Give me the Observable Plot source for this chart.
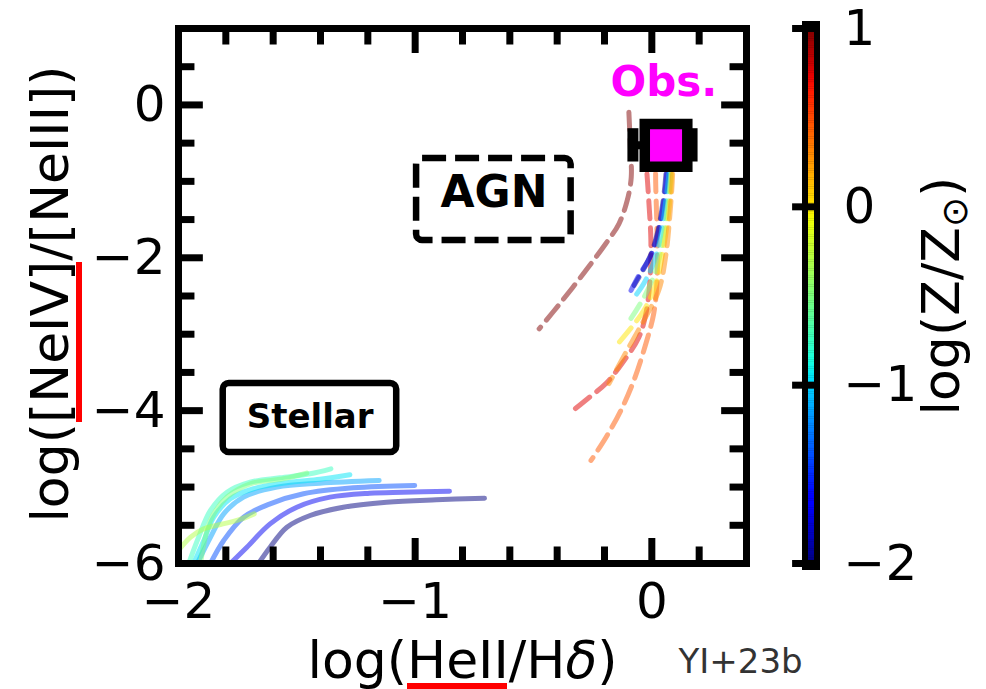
<!DOCTYPE html>
<html><head><meta charset="utf-8">
<script src="https://cdn.jsdelivr.net/npm/d3@7"></script>
<script src="https://cdn.jsdelivr.net/npm/@observablehq/plot@0.6"></script>
<style>
html,body{margin:0;padding:0;background:#fff;}
#wrap{position:relative;width:986px;height:689px;overflow:hidden;background:#fff;}
#wrap svg{position:absolute;top:0;}
.redbar{position:absolute;background:#ff0000;}
</style></head><body>
<div id="wrap"></div>
<script>
// ---- Data ----
const xMajor = [-2, -1, 0];
const xMinor = [-1.8, -1.6, -1.4, -1.2, -0.8, -0.6, -0.4, -0.2, 0.2];
const yMajor = [0, -2, -4, -6];
const yMinor = [0.5, -0.5, -1, -1.5, -2.5, -3, -3.5, -4.5, -5, -5.5];
const cbTicks = [1, 0, -1, -2];

// Stellar models (solid), log metallicity of each track
const stellarLogZ = [-2.0, -1.7, -1.4, -1.15, -0.95, -0.75, -0.5, -0.3];
const stellarX = [
  [-1.662, -1.613, -1.542, -1.444, -1.304, -1.121, -0.911, -0.707],
  [-1.781, -1.711, -1.613, -1.500, -1.360, -1.192, -1.051, -0.855],
  [-1.865, -1.809, -1.725, -1.613, -1.472, -1.262, -1.002],
  [-1.921, -1.865, -1.809, -1.725, -1.584, -1.402, -1.152],
  [-1.936, -1.893, -1.851, -1.781, -1.683, -1.542, -1.402, -1.276],
  [-1.957, -1.915, -1.865, -1.795, -1.697, -1.571, -1.444, -1.356],
  [-1.907, -1.865, -1.795, -1.697, -1.557, -1.458],
  [-2.0, -1.949, -1.893, -1.823, -1.753, -1.680]
];
const stellarY = [
  [-6.0, -5.787, -5.525, -5.372, -5.263, -5.198, -5.166, -5.146],
  [-6.0, -5.787, -5.481, -5.263, -5.132, -5.080, -5.067, -5.054],
  [-6.0, -5.699, -5.394, -5.219, -5.088, -5.010, -4.979],
  [-6.0, -5.656, -5.350, -5.132, -5.001, -4.949, -4.914],
  [-6.0, -5.699, -5.394, -5.153, -5.022, -4.944, -4.897, -4.839],
  [-6.0, -5.656, -5.306, -5.067, -4.936, -4.879, -4.826, -4.761],
  [-6.0, -5.437, -5.132, -4.957, -4.892, -4.818],
  [-5.830, -5.656, -5.546, -5.490, -5.437, -5.350]
];

// AGN models (dashed)
const agnLogZ = [1.0, 0.75, 0.45, -2.0, -1.7, -1.0, -0.5, 0.0, 0.3];
const agnX = [
  [-0.097, -0.090, -0.087, -0.104, -0.139, -0.195, -0.279, -0.378, -0.476],
  [-0.030, -0.021, -0.013, -0.004, -0.008, -0.025, -0.055, -0.126, -0.194, -0.265, -0.349],
  [0.020, 0.016, 0.022, 0.022, 0.008, -0.025, -0.076, -0.131, -0.194, -0.257],
  [0.065, 0.060, 0.048, 0.026, -0.006, -0.050, -0.075],
  [0.066, 0.063, 0.051, 0.029, -0.004, -0.055, -0.088],
  [0.072, 0.072, 0.059, 0.038, 0.008, -0.034, -0.084],
  [0.080, 0.080, 0.067, 0.046, 0.017, -0.029, -0.088],
  [0.084, 0.084, 0.072, 0.051, 0.021, -0.034, -0.139],
  [0.088, 0.088, 0.076, 0.059, 0.029, -0.034, -0.105, -0.181]
];
const agnY = [
  [-0.095, -0.596, -0.946, -1.250, -1.555, -1.817, -2.166, -2.559, -2.929],
  [-0.550, -0.884, -1.250, -1.774, -2.297, -2.729, -3.043, -3.383, -3.645, -3.828, -4.037],
  [-0.550, -0.880, -1.686, -2.297, -2.729, -3.121, -3.605, -3.998, -4.351, -4.652],
  [-0.550, -0.884, -1.250, -1.643, -1.970, -2.232, -2.360],
  [-0.550, -0.884, -1.250, -1.643, -1.970, -2.232, -2.428],
  [-0.550, -0.884, -1.250, -1.708, -2.062, -2.336, -2.559],
  [-0.550, -0.884, -1.316, -1.774, -2.166, -2.493, -2.794],
  [-0.550, -0.884, -1.381, -1.839, -2.297, -2.690, -3.108],
  [-0.550, -0.884, -1.447, -1.970, -2.428, -2.820, -3.213, -3.645]
];

// Observation
const obsX = [0.060];
const obsY = [-0.529];
const obsErrLow = [0.140];
const obsErrHigh = [0.110];

// ---- Build tables ----
function rows(logZ, xs, ys) {
  const out = [];
  logZ.forEach((z, i) => xs[i].forEach((x, j) => out.push({id: i, logZ: z, x, y: ys[i][j]})));
  return out;
}
const stellarRows = rows(stellarLogZ, stellarX, stellarY);
const agnRows = rows(agnLogZ, agnX, agnY);
const obs = obsX.map((x, i) => ({x, y: obsY[i], lo: x - obsErrLow[i], hi: x + obsErrHigh[i]}));

// jet colormap
const jetStops = {
  r: [[0, 0], [0.35, 0], [0.66, 1], [0.89, 1], [1, 0.5]],
  g: [[0, 0], [0.125, 0], [0.375, 1], [0.64, 1], [0.91, 0], [1, 0]],
  b: [[0, 0.5], [0.11, 1], [0.34, 1], [0.65, 0], [1, 0]]
};
function seg(stops, t) {
  t = Math.max(0, Math.min(1, t));
  for (let i = 1; i < stops.length; i++) {
    if (t <= stops[i][0]) {
      const [t0, v0] = stops[i - 1], [t1, v1] = stops[i];
      return v0 + (v1 - v0) * (t - t0) / (t1 - t0);
    }
  }
  return stops[stops.length - 1][1];
}
const jet = t => d3.rgb(255 * seg(jetStops.r, t), 255 * seg(jetStops.g, t), 255 * seg(jetStops.b, t)).formatHex();
const colorScale = {type: "linear", domain: [-2, 1], interpolate: jet};
const fmt = d => d < 0 ? "\u2212" + Math.abs(d) : String(d);

const main = Plot.plot({
  width: 986, height: 689,
  marginLeft: 178, marginRight: 240, marginTop: 28, marginBottom: 126,
  x: {domain: [-2, 0.4]},
  y: {domain: [-6, 1]},
  color: colorScale,
  style: {fontFamily: "DejaVu Sans", background: "white", overflow: "visible"},
  marks: [
    Plot.line(stellarRows, {x: "x", y: "y", z: "id", stroke: "logZ", strokeWidth: 5, strokeOpacity: 0.5, curve: "catmull-rom"}),
    Plot.line(agnRows, {x: "x", y: "y", z: "id", stroke: "logZ", strokeWidth: 5, strokeOpacity: 0.5, strokeDasharray: "18,9", curve: "catmull-rom"}),
    // annotation boxes
    Plot.rect([0], {x1: -0.994, x2: -0.341, y1: -0.701, y2: -1.774, rx: 6, fill: "white", stroke: "black", strokeWidth: 6.5, strokeDasharray: "24,9"}),
    Plot.text(["AGN"], {x: -0.667, y: -1.15, fontSize: 44, fontWeight: "bold", fill: "black"}),
    Plot.rect([0], {x1: -1.811, x2: -1.078, y1: -3.645, y2: -4.547, rx: 6, fill: "white", stroke: "black", strokeWidth: 6.5}),
    Plot.text(["Stellar"], {x: -1.444, y: -4.09, fontSize: 34, fontWeight: "bold", fill: "black"}),
    // observation
    Plot.ruleY(obs, {y: "y", x1: "lo", x2: "hi", stroke: "black", strokeWidth: 8}),
    Plot.ruleX(obs, {x: "lo", y1: d => d.y - 0.218, y2: d => d.y + 0.218, stroke: "black", strokeWidth: 11}),
    Plot.ruleX(obs, {x: "hi", y1: d => d.y - 0.218, y2: d => d.y + 0.218, stroke: "black", strokeWidth: 11}),
    Plot.dot(obs, {x: "x", y: "y", symbol: "square", r: 24, fill: "#ff00ff", stroke: "black", strokeWidth: 10.5}),
    Plot.text(["Obs."], {x: 0.051, y: 0.293, fontSize: 42, fontWeight: "bold", fill: "#ff00ff"}),
    // frame and ticks
    Plot.frame({stroke: "black", strokeWidth: 7}),
    Plot.ruleX(xMajor, {y1: -6, y2: -6 + 0.327, stroke: "black", strokeWidth: 7}),
    Plot.ruleX(xMajor, {y1: 1, y2: 1 - 0.327, stroke: "black", strokeWidth: 7}),
    Plot.ruleX(xMinor, {y1: -6, y2: -6 + 0.216, stroke: "black", strokeWidth: 7}),
    Plot.ruleX(xMinor, {y1: 1, y2: 1 - 0.216, stroke: "black", strokeWidth: 7}),
    Plot.ruleY(yMajor, {x1: -2, x2: -2 + 0.105, stroke: "black", strokeWidth: 7}),
    Plot.ruleY(yMajor, {x1: 0.4, x2: 0.4 - 0.105, stroke: "black", strokeWidth: 7}),
    Plot.ruleY(yMinor, {x1: -2, x2: -2 + 0.0695, stroke: "black", strokeWidth: 7}),
    Plot.ruleY(yMinor, {x1: 0.4, x2: 0.4 - 0.0695, stroke: "black", strokeWidth: 7}),
    Plot.axisX(xMajor, {tickSize: 0, tickPadding: 19, fontSize: 50, tickFormat: fmt, label: null, fill: "black"}),
    Plot.axisY(yMajor, {tickSize: 0, tickPadding: 13, fontSize: 50, tickFormat: fmt, label: null, fill: "black"}),
    // axis titles
    Plot.text(["log(HeII/H\u03b4)"], {frameAnchor: "bottom", dy: 114, fontSize: 52, textAnchor: "middle", lineAnchor: "bottom", fill: "black"}),
    Plot.text(["log([NeIV]/[NeIII])"], {frameAnchor: "left", dx: -111, dy: -2, rotate: -90, fontSize: 52, textAnchor: "middle", lineAnchor: "bottom", fill: "black"}),
    Plot.text(["YI+23b"], {frameAnchor: "bottom-right", dx: -68, dy: 109, textAnchor: "start", lineAnchor: "bottom", fontSize: 34, fill: "#333"})
  ]
});

const cbBands = d3.range(-2, 1, 0.01);
const cb = Plot.plot({
  width: 200, height: 689,
  marginLeft: 16, marginRight: 166, marginTop: 28, marginBottom: 126,
  x: {domain: [0, 1], axis: null},
  y: {domain: [-2, 1]},
  color: colorScale,
  style: {fontFamily: "DejaVu Sans", background: "transparent", overflow: "visible"},
  marks: [
    Plot.rect([0], {x1: 0, x2: 1, y1: -2, y2: 1, insetTop: -7, insetBottom: -7, fill: "black"}),
    Plot.rect(cbBands, {x1: 0, x2: 1, y1: d => d, y2: d => d + 0.012, fill: d => d + 0.005, insetLeft: 6, insetRight: 6}),
    Plot.ruleY(cbTicks, {x1: -0.55, x2: 1, stroke: "black", strokeWidth: 7}),
    Plot.axisY(cbTicks, {anchor: "right", tickSize: 0, tickPadding: 23, fontSize: 50, tickFormat: fmt, label: null, fill: "black"}),
    Plot.text(["log(Z/Z\u2299)"], {frameAnchor: "right", dx: 138, rotate: -90, fontSize: 52, textAnchor: "middle", lineAnchor: "bottom", fill: "black"})
  ]
});

const wrap = document.getElementById("wrap");
main.style.left = "0px";
cb.style.left = "786px";
wrap.appendChild(main);
wrap.appendChild(cb);

// rich text: italic delta, subscript sun symbol
const NS = "http://www.w3.org/2000/svg";
function tspan(txt, attrs) {
  const t = document.createElementNS(NS, "tspan");
  t.textContent = txt;
  for (const k in attrs) t.setAttribute(k, attrs[k]);
  return t;
}
for (const t of main.querySelectorAll("text")) {
  if (t.textContent === "log(HeII/H\u03b4)") {
    t.textContent = "";
    t.appendChild(tspan("log(HeII/H", {}));
    t.appendChild(tspan("\u03b4", {"font-style": "italic"}));
    t.appendChild(tspan(")", {}));
  }
}
for (const t of cb.querySelectorAll("text")) {
  if (t.textContent === "log(Z/Z\u2299)") {
    t.textContent = "";
    t.appendChild(tspan("log(Z/Z", {}));
    t.appendChild(tspan("\u2299", {"font-size": "36", dy: "8"}));
    t.appendChild(tspan(")", {dy: "-8"}));
  }
}

// red highlight bars
function bar(l, t, w, h) {
  const d = document.createElement("div");
  d.className = "redbar";
  Object.assign(d.style, {left: l + "px", top: t + "px", width: w + "px", height: h + "px"});
  wrap.appendChild(d);
}
bar(407, 683, 100, 6);
bar(76, 262, 6, 160);
</script>
</body></html>
